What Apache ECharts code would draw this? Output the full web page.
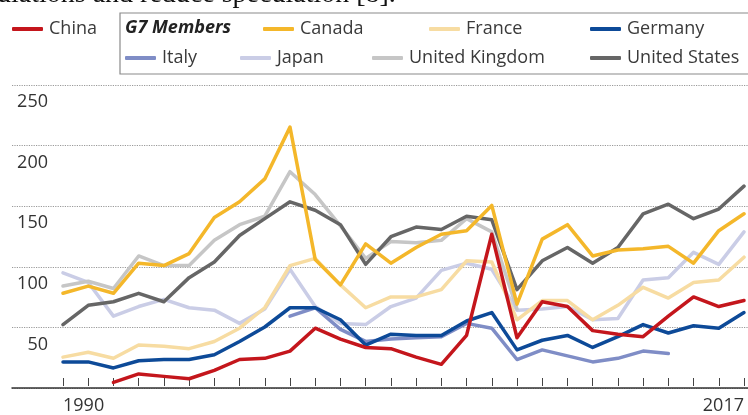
<!DOCTYPE html>
<html><head><meta charset="utf-8">
<script src="https://cdn.jsdelivr.net/npm/echarts@6/dist/echarts.min.js"></script>
<style>html,body{margin:0;padding:0;background:#fff}#c{width:748px;height:415px}</style>
</head><body><div id="c"></div>
<script>
const years = ['1990','1991','1992','1993','1994','1995','1996','1997','1998','1999','2000','2001','2002','2003','2004','2005','2006','2007','2008','2009','2010','2011','2012','2013','2014','2015','2016','2017'];
const yTickLabels = ['', '50', '100', '150', '200', '250'];
const china   = [null,null,3,10,8,6,13,22,23,29,48,39,32,31,24,18,42,126,40,70,66,46,43,41,58,74,66,71];
const canada  = [77,83,77,102,100,110,140,153,172,215,105,84,118,102,115,126,129,150,68,122,134,108,113,114,116,102,129,143];
const france  = [24,28,23,34,33,31,37,48,65,100,106,84,65,74,74,80,104,103,55,71,71,55,67,82,73,86,88,107];
const germany = [20,20,15,21,22,22,26,37,49,65,65,55,34,43,42,42,54,61,30,38,42,32,41,51,44,50,48,61];
const italy   = [null,null,null,null,null,null,null,null,null,58,65,47,37,39,40,41,52,48,22,30,25,20,23,29,27,null,null,null];
const japan   = [94,86,58,66,72,65,63,52,64,97,66,52,51,66,73,96,102,97,63,64,66,55,56,88,90,111,101,128];
const uk      = [83,87,81,108,100,100,121,134,141,178,159,133,106,120,119,121,139,128,64,null,null,null,null,null,null,null,null,null];
const us      = [51,67,70,77,70,90,103,125,139,153,146,134,101,124,132,130,141,138,80,104,115,102,115,143,151,139,147,166];

const colors = {
  'China':'#c4161c','Canada':'#f4b72a','France':'#f7dca2','Germany':'#0d4a98',
  'Italy':'#7f8dc6','Japan':'#cacde6','United Kingdom':'#c6c6c6','United States':'#666666'
};
const seriesDefs = [
  ['Japan', japan], ['United Kingdom', uk], ['France', france], ['Italy', italy],
  ['United States', us], ['Germany', germany], ['Canada', canada], ['China', china]
];
const FONT = '"Open Sans", "Noto Sans", sans-serif';

const legendPos = [
  ['China', 12, 20], ['Canada', 263, 20], ['France', 429, 20], ['Germany', 590, 20],
  ['Italy', 125, 49], ['Japan', 240, 49], ['United Kingdom', 372, 49], ['United States', 590, 49]
];

const chart = echarts.init(document.getElementById('c'), null, {renderer:'canvas'});
const option = {
  animation: false,
  backgroundColor: '#fff',
  textStyle: { fontFamily: FONT },
  grid: [
    { left: 12, right: 0, top: 85, bottom: 27 },
    { left: 63, right: 4, top: 85, bottom: 27 }
  ],
  xAxis: [
    { gridIndex: 0, type: 'value', min: 0, max: 1,
      axisLine: { show: true, lineStyle: { color: '#333', width: 1.5 } },
      axisTick: { show: false }, axisLabel: { show: false }, splitLine: { show: false } },
    { gridIndex: 1, type: 'category', data: years, boundaryGap: false,
      axisLine: { show: false },
      axisTick: { show: true, inside: true, length: 8, interval: 0, lineStyle: { color: '#444', width: 1 } },
      axisLabel: { interval: (i) => i === 0 || i === years.length - 1, fontSize: 18, color: '#333', margin: 11,
        fontFamily: FONT, alignMinLabel: 'left', alignMaxLabel: 'right' },
      splitLine: { show: false } }
  ],
  yAxis: [
    { gridIndex: 0, type: 'value', min: 0, max: 250, interval: 50,
      axisLine: { show: false }, axisTick: { show: false },
      splitLine: { show: true, lineStyle: { type: 'dotted', color: '#9a9a9a', width: 1.2 } },
      axisLabel: { inside: true, align: 'right', margin: 36, verticalAlign: 'top', padding: [8,0,0,0],
        fontSize: 18, color: '#333', fontFamily: FONT,
        formatter: (v) => yTickLabels[Math.round(v / 50)] } },
    { gridIndex: 1, type: 'value', min: 0, max: 250, interval: 50, show: false }
  ],
  legend: legendPos.map(([name, x, y]) => ({
    data: [name], left: x, top: y, itemWidth: 31, itemHeight: 4, icon: 'roundRect',
    selectedMode: false, padding: 0, itemGap: 0,
    textStyle: { fontSize: 18, color: '#3a3a3a', fontFamily: FONT, padding: [0,0,0,1] }
  })),
  graphic: [
    { type: 'text', x: -3, y: -5, silent: true,
      style: { text: 'ulations and reduce speculation [8].', fontFamily: '"Liberation Serif", "DejaVu Serif", serif',
        fontSize: 28, fill: '#111', verticalAlign: 'middle' } },
    { type: 'rect', silent: true, shape: { x: 120, y: 13, width: 700, height: 61 },
      style: { fill: 'none', stroke: '#8a8a8a', lineWidth: 1.2 } },
    { type: 'text', x: 125, y: 28, silent: true,
      style: { text: 'G7 Members', fontFamily: FONT, fontSize: 18, fontWeight: 'bold', fontStyle: 'italic',
        fill: '#222', verticalAlign: 'middle' } }
  ],
  series: seriesDefs.map(([name, data]) => ({
    name, type: 'line', xAxisIndex: 1, yAxisIndex: 1, data, symbol: 'none',
    connectNulls: false, color: colors[name],
    lineStyle: { width: 3.5, color: colors[name], cap: 'round', join: 'round' }
  }))
};
chart.setOption(option);
</script></body></html>
